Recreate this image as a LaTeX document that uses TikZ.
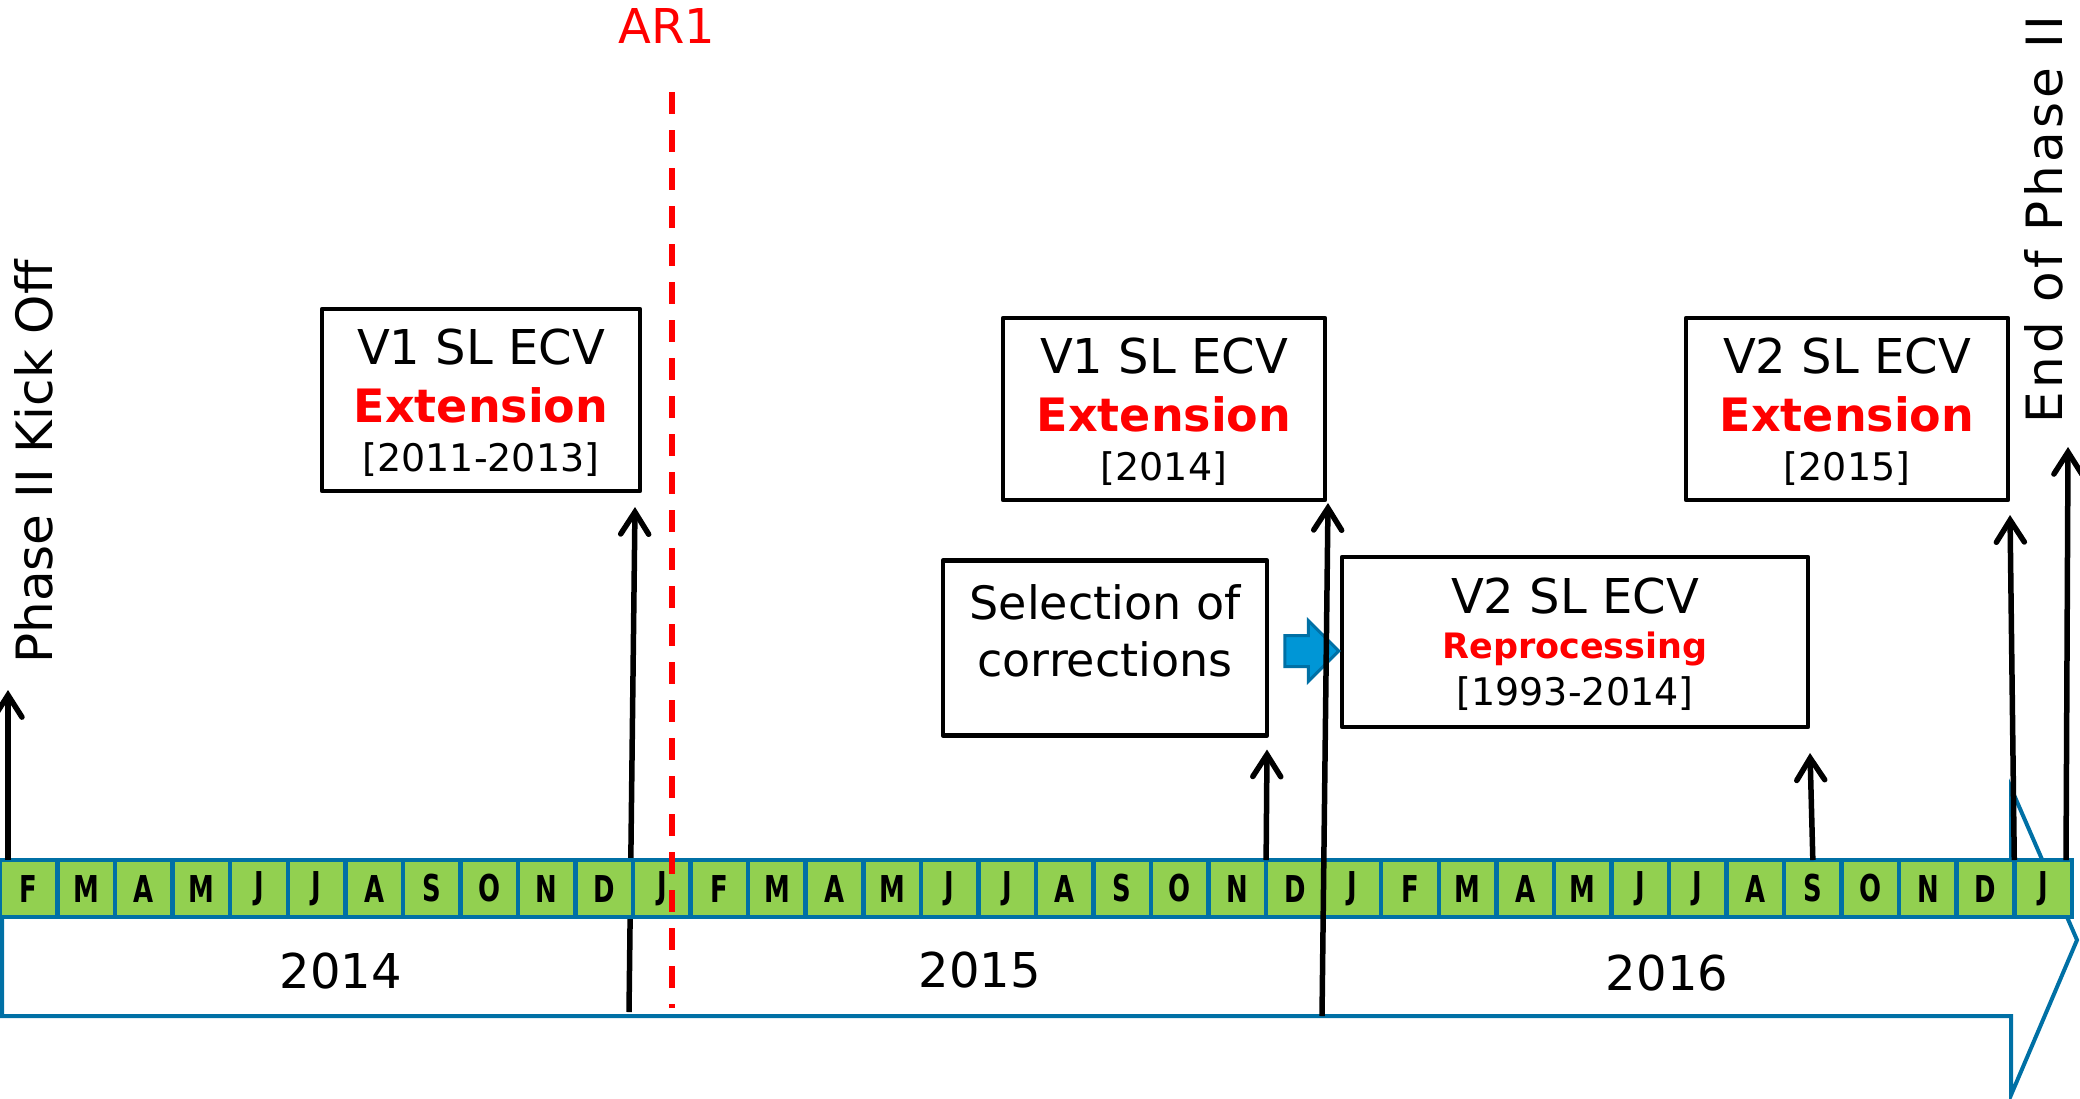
\documentclass[tikz,border=0pt]{standalone}
\usepackage{fontspec}
\setmainfont{DejaVu Sans}
\newfontfamily\monthfont{DejaVu Sans}[FakeStretch=0.7]
\usetikzlibrary{arrows.meta, positioning, shapes.arrows, calc}
\definecolor{lineblue}{RGB}{0,112,165}
\definecolor{monthgreen}{RGB}{146,208,80}
\definecolor{arrowblue}{RGB}{0,150,214}

\begin{document}
\begin{tikzpicture}[
  x=0.5pt, y=-0.5pt,
  month/.style={draw=lineblue, fill=monthgreen, line width=2.25pt, minimum width=28.78pt, minimum height=28.5pt, inner sep=0pt, outer sep=0pt, font=\monthfont\bfseries\fontsize{18.5}{18.5}\selectfont},
  ecv/.style={draw, line width=2.4pt, line join=round, align=center, inner sep=0pt, outer sep=0pt, font=\fontsize{24}{29}\selectfont},
  milestone/.style={rotate=90, anchor=base west, inner sep=0pt, font=\fontsize{25}{29}\selectfont},
  year/.style={anchor=base, inner sep=0pt, font=\fontsize{24}{29}\selectfont},
  arr/.style={-{Straight Barb[length=11pt, width=14pt, line cap=round]}, line width=2.75pt}
]
\useasboundingbox (0,0) rectangle (2080,1098);
\draw[lineblue, line width=2pt] (2,862) -- (2011,862) -- (2011,788) -- (2077,940) -- (2011,1095) -- (2011,1016) -- (2,1016) -- cycle;

\node[ecv, minimum width=159pt, minimum height=91pt, text depth=-2.1pt] (v1a) at (481,400) {V1 SL ECV\\{\color{red}\bfseries\fontsize{23}{28}\selectfont Extension}\\[-4.6pt]{\fontsize{19}{23}\selectfont [2011-2013]}};
\coordinate (ar2014) at (629,1012);
\draw[arr] (ar2014) -- ($(v1a.south east)+(-5,16)$);

\foreach \m [count=\i from 0] in {F,M,A,M,J,J,A,S,O,N,D,J,F,M,A,M,J,J,A,S,O,N,D,J,F,M,A,M,J,J,A,S,O,N,D,J}
  \node[month] (m\i) at ({28.78+\i*57.55},888.5) {\m};

\node[ecv, minimum width=161pt, minimum height=91pt, text depth=-2.1pt] (v1b) at (1164,409) {V1 SL ECV\\{\color{red}\bfseries\fontsize{23}{28}\selectfont Extension}\\[-4.6pt]{\fontsize{19}{23}\selectfont [2014]}};
\node[ecv, minimum width=161pt, minimum height=91pt, text depth=-2.1pt] (v2) at (1847,409) {V2 SL ECV\\{\color{red}\bfseries\fontsize{23}{28}\selectfont Extension}\\[-4.6pt]{\fontsize{19}{23}\selectfont [2015]}};
\node[ecv, minimum width=162pt, minimum height=87.5pt, text depth=17pt, font=\fontsize{23}{28.5}\selectfont] (sel) at (1105,648) {Selection of\\corrections};
\node[ecv, minimum width=233pt, minimum height=85pt, text depth=-5.4pt] (repro) at (1575,642) {V2 SL ECV\\[-6.6pt]{\color{red}\bfseries\fontsize{17.5}{21}\selectfont Reprocessing}\\[-5.3pt]{\fontsize{19}{23}\selectfont [1993-2014]}};
\node[single arrow, draw=lineblue, fill=arrowblue, line width=1.5pt, minimum height=27pt, minimum width=29pt, inner xsep=0pt, inner ysep=7pt, outer sep=0pt, single arrow head extend=7.5pt, single arrow head indent=0pt] (corrarr) at (1304,651) {};

\node[year] (y2014) at (341,988) {2014};
\node[year] (y2015) at (980,987) {2015};
\node[year] (y2016) at (1667,990) {2016};
\node[milestone] (kickoff) at (52,664) {Phase II Kick Off};
\node[milestone, font=\fontsize{25}{29}\selectfont\addfontfeature{LetterSpace=7}] (endphase) at (2062,424) {End of Phase II};
\node[red, anchor=base, inner sep=0pt, font=\fontsize{24}{29}\selectfont] (ar1) at (667,43) {AR1};

\coordinate (kick) at (8,860);
\coordinate (kicktip) at (8,690);
\coordinate (ar2015) at (1322,1016);
\coordinate (endp) at (2066,860);
\coordinate (endtip) at (2068,447);
\coordinate (ar1top) at (672,92);
\coordinate (ar1bot) at (672,1008);

\draw[arr] (kick) -- (kicktip);
\draw[arr] (m22.north west) -- ($(sel.south east)+(0,14)$);
\draw[arr] (ar2015) -- ($(v1b.south east)+(3,3)$);
\draw[arr] (m31.north) -- ($(repro.south east)+(2,26)$);
\draw[arr] (m35.north west) -- ($(v2.south east)+(2,15)$);
\draw[arr] (endp) -- (endtip);
\draw[red, line width=2.6pt, dash pattern=on 11pt off 8pt] (ar1top) -- (ar1bot);
\end{tikzpicture}
\end{document}
